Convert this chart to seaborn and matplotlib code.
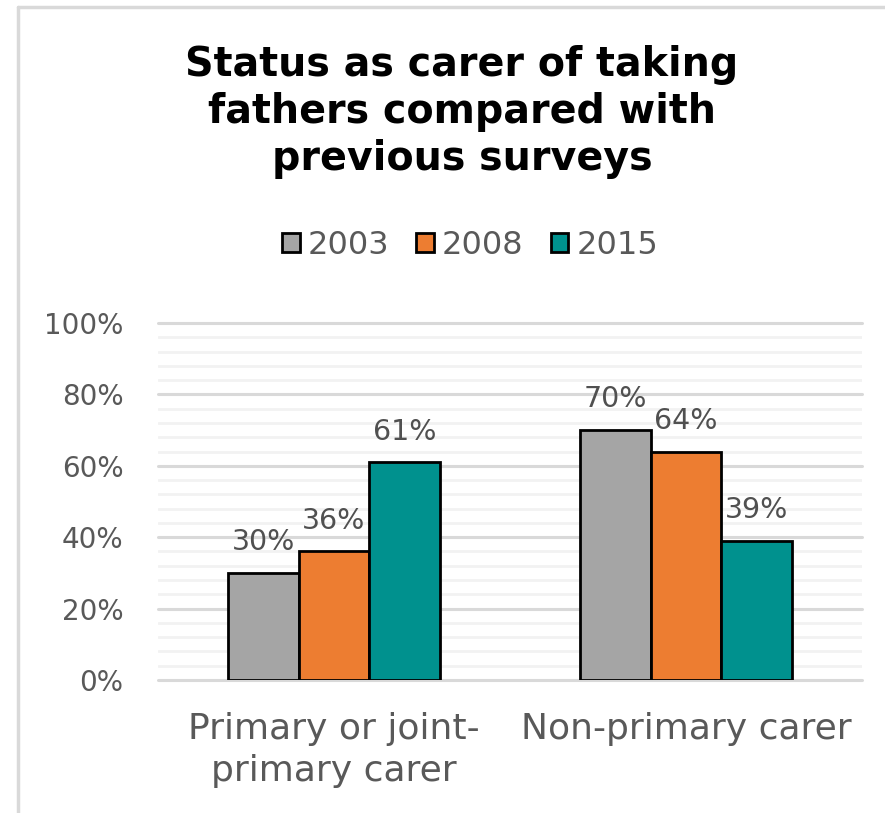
import matplotlib
matplotlib.use("Agg")
import matplotlib.pyplot as plt
import seaborn as sns
import pandas as pd
from matplotlib.lines import Line2D
from matplotlib.patches import Patch
from matplotlib.ticker import MultipleLocator

categories = ["Primary or joint-\nprimary carer", "Non-primary carer"]
years = ["2003", "2008", "2015"]
values_2003 = [30, 70]
values_2008 = [36, 64]
values_2015 = [61, 39]
colors = ["#A5A5A5", "#ED7D31", "#00918E"]

rows = []
for yr, vals in zip(years, [values_2003, values_2008, values_2015]):
    for c, v in zip(categories, vals):
        rows.append({"category": c, "year": yr, "value": v})
df = pd.DataFrame(rows)

sns.set_theme(style="white")
plt.rcParams['font.family'] = ['DejaVu Sans']

fig = plt.figure(figsize=(8.85, 8.13), dpi=100)
ax = fig.add_axes([158/885, 1-680/813, (862-158)/885, (680-323)/813])

sns.barplot(data=df, x="category", y="value", hue="year", order=categories,
            hue_order=years, palette=colors, saturation=1, width=0.6, gap=0,
            edgecolor="black", linewidth=2, ax=ax, legend=False, zorder=3)

ax.set_ylim(0, 100)
ax.set_xlim(-0.5, 1.5)
ax.yaxis.set_major_locator(MultipleLocator(20))
ax.yaxis.set_minor_locator(MultipleLocator(4))
ax.grid(which="major", axis="y", color="#D9D9D9", linewidth=2.2, zorder=0)
ax.grid(which="minor", axis="y", color="#F2F2F2", linewidth=2, zorder=0)
ax.set_axisbelow(True)
for s in ax.spines.values():
    s.set_visible(False)
ax.set_yticks(range(0, 101, 20))
ax.set_yticklabels([f"{v}%" for v in range(0, 101, 20)], color="#595959", fontsize=20)
ax.tick_params(axis="y", which="both", length=0, pad=25)
ax.tick_params(axis="x", length=0, pad=23, labelsize=26, labelcolor="#595959")
for lbl in ax.get_xticklabels():
    lbl.set_linespacing(1.3)
for gl in ax.get_ygridlines():
    gl.set_clip_on(False)
ax.set_xlabel("")
ax.set_ylabel("")

for cont in ax.containers:
    ax.bar_label(cont, labels=[f"{int(v)}%" for v in cont.datavalues],
                 padding=12, color="#505050", fontsize=20.5)

fig.text(0.522, 1-112/813, "Status as carer of taking\nfathers compared with\nprevious surveys",
         ha="center", va="center", fontsize=28.5, fontweight="bold", color="black",
         linespacing=1.22)

handles = [Patch(facecolor=c, edgecolor="black", linewidth=2) for c in colors]
fig.legend(handles, years, loc="center", bbox_to_anchor=(0.531, 1-245/813), ncol=3,
           frameon=False, fontsize=23, labelcolor="#595959", handlelength=0.55,
           handleheight=0.55, handletextpad=0.25, columnspacing=0.85)

# outer border (left and top)
fig.add_artist(Line2D([18/885, 18/885], [0, 1-7/813], color="#D9D9D9", linewidth=2.5,
                      transform=fig.transFigure))
fig.add_artist(Line2D([18/885, 1], [1-7/813, 1-7/813], color="#D9D9D9", linewidth=2.5,
                      transform=fig.transFigure))

fig.savefig("out.png", dpi=100)
